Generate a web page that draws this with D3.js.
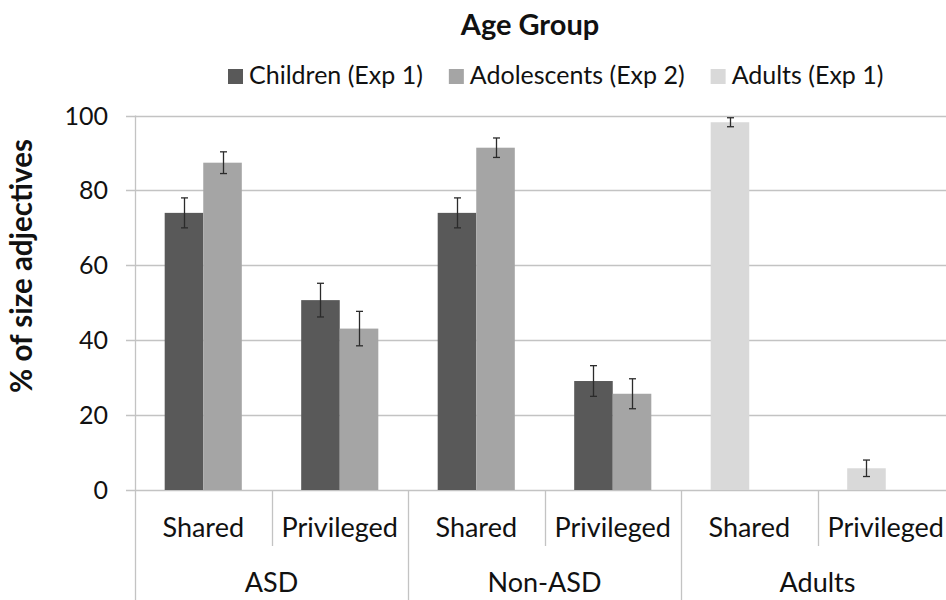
<html lang="en">
<head>
    <meta charset="UTF-8"/>
    <title>Age Group - size adjectives</title>
    <script src="https://d3js.org/d3.v7.min.js"></script>
    <style>
        body { margin: 0; background: #fff; }
        text { font-family: Lato, "Open Sans", sans-serif; fill: #111; }
    </style>
</head>
<body>
    <script>
        // data
        var groups = ["ASD", "Non-ASD", "Adults"];
        var conditions = ["Shared", "Privileged"];
        var seriesNames = ["Children (Exp 1)", "Adolescents (Exp 2)", "Adults (Exp 1)"];
        var seriesColors = ["#595959", "#a5a5a5", "#d9d9d9"];

        // one value per slot: ASD-Shared, ASD-Priv, NonASD-Shared, NonASD-Priv, Adults-Shared, Adults-Priv
        var children    = [74.0, 50.7, 74.0, 29.1, null, null];
        var childrenErr = [4.0, 4.5, 4.0, 4.1, null, null];
        var adolescents    = [87.4, 43.1, 91.4, 25.7, null, null];
        var adolescentsErr = [2.9, 4.6, 2.6, 4.0, null, null];
        var adults    = [null, null, null, null, 98.2, 5.8];
        var adultsErr = [null, null, null, null, 1.2, 2.2];

        var yTicks = [0, 20, 40, 60, 80, 100];

        var w = 946;
        var h = 600;
        // note: "top" is taken by window.top, so plotTop etc.
        var plotLeft = 135, plotRight = 954, plotTop = 115.5, plotBase = 490;

        var svg = d3.select("body")
                    .append("svg")
                    .attr("width", w)
                    .attr("height", h);

        // slots = group x condition
        var slots = [];
        groups.forEach(function (g) {
            conditions.forEach(function (c) {
                slots.push({group: g, cond: c});
            });
        });

        var xScale = d3.scaleBand()
                        .domain(d3.range(slots.length))
                        .range([plotLeft, plotRight]);

        // two bar positions in each slot; the adults bars sit in the first one like in the original
        var xPos = d3.scaleBand()
                        .domain([0, 1])
                        .range([0, xScale.bandwidth()])
                        .paddingOuter(0.77);

        var yScale = d3.scaleLinear()
                        .domain([0, 100])
                        .range([plotBase, plotTop]);

        var series = [
            {name: seriesNames[0], color: seriesColors[0], values: children, err: childrenErr, pos: 0},
            {name: seriesNames[1], color: seriesColors[1], values: adolescents, err: adolescentsErr, pos: 1},
            {name: seriesNames[2], color: seriesColors[2], values: adults, err: adultsErr, pos: 0}
        ];

        var bars = [];
        series.forEach(function (s) {
            s.values.forEach(function (v, i) {
                if (v != null) bars.push({slot: i, v: v, e: s.err[i], color: s.color, pos: s.pos});
            });
        });

        // gridlines
        svg.append("g")
            .selectAll("line")
            .data(yTicks)
            .enter()
            .append("line")
            .attr("x1", plotLeft - 9)
            .attr("x2", w)
            .attr("y1", function (d) { return Math.round(yScale(d)) + 0.5; })
            .attr("y2", function (d) { return Math.round(yScale(d)) + 0.5; })
            .attr("stroke", "#c3c3c3")
            .attr("stroke-width", 1.3);

        // y axis line
        svg.append("line")
            .attr("x1", plotLeft + 0.5).attr("x2", plotLeft + 0.5)
            .attr("y1", yScale(100)).attr("y2", h)
            .attr("stroke", "#c3c3c3")
            .attr("stroke-width", 1.3);

        // y tick labels
        svg.append("g")
            .selectAll("text")
            .data(yTicks)
            .enter()
            .append("text")
            .attr("x", 108)
            .attr("y", function (d) { return yScale(d) + 9; })
            .attr("text-anchor", "end")
            .style("font-size", "25px")
            .text(function (d) { return d; });

        // bars
        svg.append("g")
            .selectAll("rect")
            .data(bars)
            .enter()
            .append("rect")
            .attr("x", function (d) { return xScale(d.slot) + xPos(d.pos); })
            .attr("y", function (d) { return yScale(d.v); })
            .attr("width", xPos.bandwidth())
            .attr("height", function (d) { return plotBase - yScale(d.v); })
            .attr("fill", function (d) { return d.color; });

        // error bars
        var eb = svg.append("g")
            .selectAll("g")
            .data(bars)
            .enter()
            .append("g")
            .attr("stroke", "#2b2b2b")
            .attr("stroke-width", 1.3);

        function cx(d) { return Math.round(xScale(d.slot) + xPos(d.pos) + xPos.bandwidth() / 2) + 0.5; }

        eb.append("line")
            .attr("x1", cx).attr("x2", cx)
            .attr("y1", function (d) { return yScale(d.v + d.e); })
            .attr("y2", function (d) { return yScale(d.v - d.e); });
        eb.append("line")
            .attr("x1", function (d) { return cx(d) - 3.5; })
            .attr("x2", function (d) { return cx(d) + 3.5; })
            .attr("y1", function (d) { return yScale(d.v + d.e); })
            .attr("y2", function (d) { return yScale(d.v + d.e); });
        eb.append("line")
            .attr("x1", function (d) { return cx(d) - 3.5; })
            .attr("x2", function (d) { return cx(d) + 3.5; })
            .attr("y1", function (d) { return yScale(d.v - d.e); })
            .attr("y2", function (d) { return yScale(d.v - d.e); });

        // x axis dividers
        svg.append("g")
            .selectAll("line")
            .data(d3.range(1, slots.length))
            .enter()
            .append("line")
            .attr("x1", function (i) { return Math.round(xScale(i)) + 0.5; })
            .attr("x2", function (i) { return Math.round(xScale(i)) + 0.5; })
            .attr("y1", plotBase)
            .attr("y2", function (i) { return i % conditions.length === 0 ? h : 546; })
            .attr("stroke", "#c3c3c3")
            .attr("stroke-width", 1.3);

        // condition labels
        svg.append("g")
            .selectAll("text")
            .data(slots)
            .enter()
            .append("text")
            .attr("x", function (d, i) { return xScale(i) + xScale.bandwidth() / 2; })
            .attr("y", 537)
            .attr("text-anchor", "middle")
            .style("font-size", "27px")
            .text(function (d) { return d.cond; });

        // group labels
        svg.append("g")
            .selectAll("text")
            .data(groups)
            .enter()
            .append("text")
            .attr("x", function (d, i) {
                return xScale(i * conditions.length) + xScale.bandwidth() * conditions.length / 2;
            })
            .attr("y", 592)
            .attr("text-anchor", "middle")
            .style("font-size", "27px")
            .text(function (d) { return d; });

        // y axis title
        svg.append("text")
            .attr("transform", "translate(32,266) rotate(-90)")
            .attr("text-anchor", "middle")
            .style("font-size", "29.5px")
            .style("font-weight", "bold")
            .text("% of size adjectives");

        // chart title
        svg.append("text")
            .attr("x", 530)
            .attr("y", 35)
            .attr("text-anchor", "middle")
            .style("font-size", "29px")
            .style("font-weight", "bold")
            .text("Age Group");

        // legend
        var legend = svg.append("g");
        var lx = 228;
        series.forEach(function (s) {
            legend.append("rect")
                .attr("x", lx)
                .attr("y", 69)
                .attr("width", 15)
                .attr("height", 15)
                .attr("fill", s.color);
            var t = legend.append("text")
                .attr("x", lx + 21)
                .attr("y", 84)
                .style("font-size", "25px")
                .text(s.name);
            lx = lx + 21 + t.node().getComputedTextLength() + 26;
        });
    </script>
</body>
</html>
